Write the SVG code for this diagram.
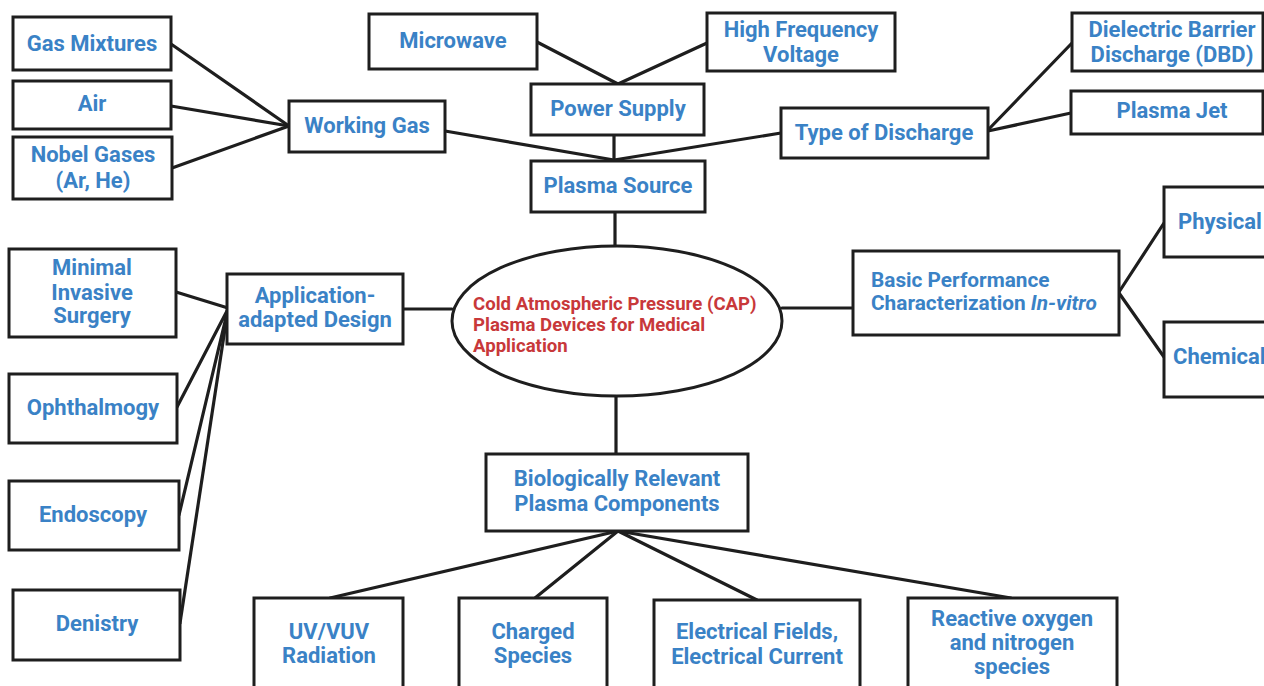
<svg xmlns="http://www.w3.org/2000/svg" width="1264" height="686" viewBox="0 0 1264 686">
<style>
.b{fill:#fff;stroke:#1e1e1e;stroke-width:3}
.t{font-family:Roboto,"Liberation Sans",sans-serif;font-weight:bold;font-size:22px;fill:#3a82c6;text-anchor:middle}
.s{text-anchor:start}
.r{fill:#c8383a;font-size:18.6px;text-anchor:start}
.c line{stroke:#1e1e1e;stroke-width:3.2;stroke-linecap:round}
</style>
<rect width="1264" height="686" fill="#fff"/>
<g class="c" id="connectors">
<line x1="171" y1="44" x2="289" y2="126"/>
<line x1="171" y1="106" x2="289" y2="126"/>
<line x1="172" y1="168" x2="289" y2="126"/>
<line x1="537" y1="42" x2="618" y2="84"/>
<line x1="707" y1="43" x2="618" y2="84"/>
<line x1="614" y1="135" x2="614" y2="161"/>
<line x1="445" y1="131" x2="614" y2="160"/>
<line x1="781" y1="133" x2="614" y2="160"/>
<line x1="988" y1="130" x2="1072" y2="43"/>
<line x1="988" y1="131" x2="1071" y2="113"/>
<line x1="615" y1="212" x2="615" y2="247"/>
<line x1="176" y1="292" x2="228" y2="308"/>
<line x1="177" y1="407" x2="228" y2="309"/>
<line x1="179" y1="515" x2="228" y2="309"/>
<line x1="180" y1="623" x2="228" y2="309"/>
<line x1="403" y1="309" x2="452" y2="309"/>
<line x1="782" y1="308" x2="853" y2="308"/>
<line x1="1119" y1="292" x2="1164" y2="223"/>
<line x1="1119" y1="293" x2="1164" y2="357"/>
<line x1="616" y1="397" x2="616" y2="454"/>
<line x1="618" y1="531" x2="330" y2="598"/>
<line x1="618" y1="531" x2="535" y2="598"/>
<line x1="618" y1="531" x2="757" y2="600"/>
<line x1="618" y1="531" x2="1011" y2="598"/>
</g>
<g id="gas-mixtures"><rect class="b" x="13" y="17" width="158" height="53"/><text class="t" x="92" y="51">Gas Mixtures</text></g>
<g id="air"><rect class="b" x="13" y="81" width="158" height="48"/><text class="t" x="92" y="111">Air</text></g>
<g id="nobel-gases"><rect class="b" x="13" y="137" width="159" height="62"/><text class="t" x="93" y="162">Nobel Gases</text><text class="t" x="93" y="188">(Ar, He)</text></g>
<g id="working-gas"><rect class="b" x="289" y="101" width="156" height="51"/><text class="t" x="367" y="133">Working Gas</text></g>
<g id="microwave"><rect class="b" x="369" y="14" width="168" height="55"/><text class="t" x="453" y="48">Microwave</text></g>
<g id="high-frequency"><rect class="b" x="707" y="13" width="188" height="58"/><text class="t" x="801" y="37">High Frequency</text><text class="t" x="801" y="62">Voltage</text></g>
<g id="power-supply"><rect class="b" x="531" y="84" width="173" height="51"/><text class="t" x="618" y="116">Power Supply</text></g>
<g id="plasma-source"><rect class="b" x="531" y="161" width="174" height="51"/><text class="t" x="618" y="193">Plasma Source</text></g>
<g id="type-of-discharge"><rect class="b" x="781" y="108" width="207" height="50"/><text class="t" x="884" y="140">Type of Discharge</text></g>
<g id="dbd"><rect class="b" x="1072" y="13" width="191" height="58"/><text class="t" x="1172" y="37">Dielectric Barrier</text><text class="t" x="1172" y="62">Discharge (DBD)</text></g>
<g id="plasma-jet"><rect class="b" x="1071" y="91" width="192" height="43"/><text class="t" x="1172" y="118">Plasma Jet</text></g>
<g id="minimal-invasive"><rect class="b" x="9" y="249" width="167" height="88"/><text class="t" x="92" y="275">Minimal</text><text class="t" x="92" y="300">Invasive</text><text class="t" x="92" y="323">Surgery</text></g>
<g id="application-design"><rect class="b" x="227" y="274" width="176" height="70"/><text class="t" x="315" y="303">Application-</text><text class="t" x="315" y="327">adapted Design</text></g>
<g id="ophthalmogy"><rect class="b" x="9" y="374" width="168" height="69"/><text class="t" x="93" y="415">Ophthalmogy</text></g>
<g id="endoscopy"><rect class="b" x="9" y="481" width="170" height="69"/><text class="t" x="93" y="522">Endoscopy</text></g>
<g id="denistry"><rect class="b" x="13" y="590" width="167" height="70"/><text class="t" x="97" y="631">Denistry</text></g>
<g id="cap"><ellipse class="b" cx="617" cy="321" rx="165" ry="75"/><text class="t r" x="473" y="310">Cold Atmospheric Pressure (CAP)</text><text class="t r" x="473" y="331">Plasma Devices for Medical</text><text class="t r" x="473" y="352">Application</text></g>
<g id="basic-performance"><rect class="b" x="853" y="251" width="266" height="84"/><text class="t s" x="871" y="287" style="font-size:20.8px">Basic Performance</text><text class="t s" x="871" y="310" style="font-size:20.8px">Characterization <tspan font-style="italic">In-vitro</tspan></text></g>
<g id="physical"><rect class="b" x="1164" y="187" width="110" height="70"/><text class="t s" x="1178" y="229">Physical</text></g>
<g id="chemical"><rect class="b" x="1164" y="322" width="110" height="75"/><text class="t s" x="1173" y="364">Chemical</text></g>
<g id="biological-components"><rect class="b" x="486" y="454" width="262" height="77"/><text class="t" x="617" y="486">Biologically Relevant</text><text class="t" x="617" y="511">Plasma Components</text></g>
<g id="uv-radiation"><rect class="b" x="254" y="598" width="149" height="110"/><text class="t" x="329" y="639">UV/VUV</text><text class="t" x="329" y="663">Radiation</text></g>
<g id="charged-species"><rect class="b" x="459" y="598" width="148" height="110"/><text class="t" x="533" y="639">Charged</text><text class="t" x="533" y="663">Species</text></g>
<g id="electrical-fields"><rect class="b" x="654" y="600" width="206" height="110"/><text class="t" x="757" y="639">Electrical Fields,</text><text class="t" x="757" y="664">Electrical Current</text></g>
<g id="reactive-species"><rect class="b" x="908" y="598" width="209" height="110"/><text class="t" x="1012" y="626">Reactive oxygen</text><text class="t" x="1012" y="650">and nitrogen</text><text class="t" x="1012" y="674">species</text></g>
</svg>
